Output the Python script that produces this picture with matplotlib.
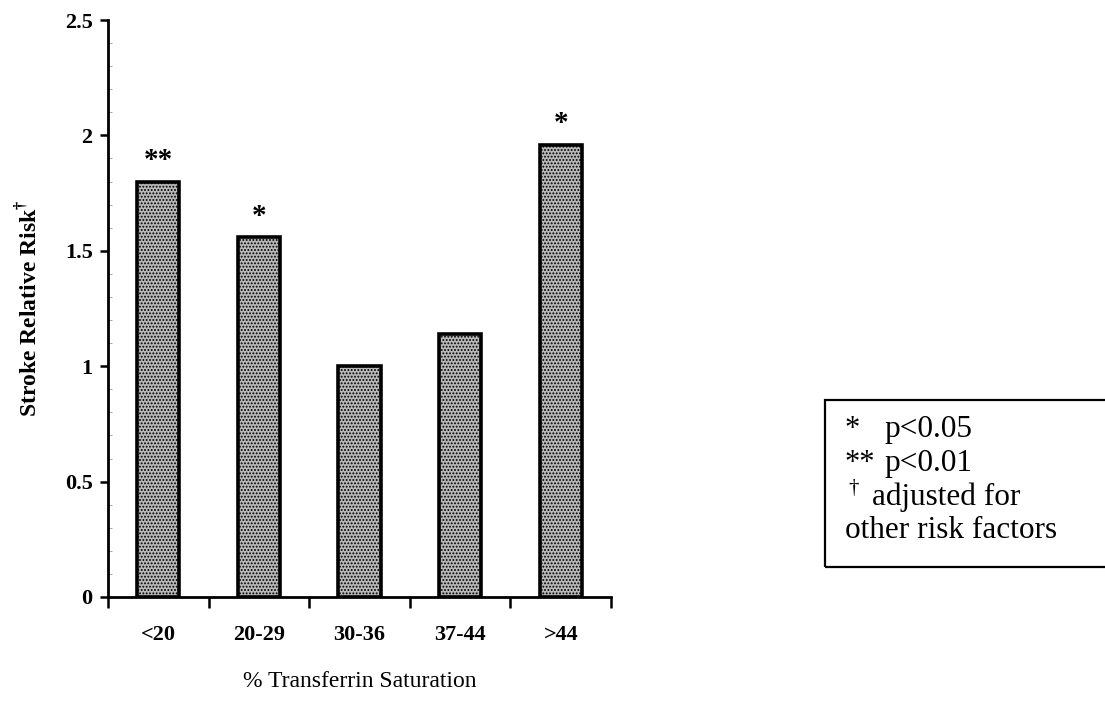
import numpy as np
import matplotlib
matplotlib.use("Agg")
import matplotlib.pyplot as plt
from matplotlib.patches import Rectangle

# data
categories = ["<20", "20-29", "30-36", "37-44", ">44"]
relative_risk = [1.80, 1.56, 1.00, 1.14, 1.96]
significance = ["**", "*", "", "", "*"]
y_ticks = [0, 0.5, 1, 1.5, 2, 2.5]
y_tick_labels = ["0", "0.5", "1", "1.5", "2", "2.5"]
note_symbols = ["*", "**", "\u2020", ""]
note_texts = ["p<0.05", "p<0.01", "adjusted for", "other risk factors"]

plt.rcParams['font.family'] = ['Liberation Serif', 'DejaVu Serif']
plt.rcParams['mathtext.fontset'] = 'custom'
plt.rcParams['mathtext.rm'] = 'Liberation Serif'
plt.rcParams['mathtext.bf'] = 'Liberation Serif:bold'
plt.rcParams['hatch.linewidth'] = 0.9
plt.rcParams['hatch.color'] = '#222222'

fig = plt.figure(figsize=(11.05, 7.02), dpi=100)
ax = fig.add_axes([0.0977, 0.1496, 0.4553, 0.8219])

x = np.arange(len(categories))
ax.bar(x, relative_risk, width=0.42, color='#b8b8b8', edgecolor='black',
       linewidth=2.6, hatch='.....')

for xi, val, sig in zip(x, relative_risk, significance):
    if sig:
        ax.text(xi, val + 0.09, sig, ha='center', va='center',
                fontsize=21, fontweight='bold')

ax.set_xlim(-0.5, len(categories) - 0.5)
ax.set_ylim(0, 2.5)

ax.set_yticks(y_ticks)
ax.set_yticklabels(y_tick_labels, fontsize=16, fontweight='bold')
ax.set_yticks(np.arange(0, 2.51, 0.1), minor=True)
ax.tick_params(axis='y', which='major', direction='out', length=6, width=1.8, pad=5)
ax.tick_params(axis='y', which='minor', direction='in', length=3, width=0.6, color='#999999')

# category boundaries as ticks, labels at centers
ax.set_xticks(np.arange(-0.5, len(categories), 1.0))
ax.set_xticklabels([])
ax.set_xticks(x, minor=True)
ax.set_xticklabels(categories, minor=True, fontsize=16, fontweight='bold')
ax.tick_params(axis='x', which='major', direction='out', length=8, width=1.8)
ax.tick_params(axis='x', which='minor', length=0, pad=20)

for side in ['top', 'right']:
    ax.spines[side].set_visible(False)
for side in ['left', 'bottom']:
    ax.spines[side].set_linewidth(2.0)

ax.set_ylabel("Stroke Relative Risk$^{\\mathbf{\u2020}}$", fontsize=17, fontweight='bold', labelpad=16)
ax.set_xlabel("% Transferrin Saturation", fontsize=17, labelpad=19)

# note box on the right
fig.patches.append(Rectangle((825 / 1105, 1 - 567 / 702), 0.3, 167 / 702,
                             transform=fig.transFigure, fill=False,
                             edgecolor='black', linewidth=1.6))
line_y = [430, 463, 497, 531]
text_x = [884, 884, 872, 845]
for sym, txt, yy, tx in zip(note_symbols, note_texts, line_y, text_x):
    if sym == "\u2020":
        fig.text(848 / 1105, 1 - (yy - 8) / 702, sym, fontsize=15, va='center', ha='left')
    elif sym:
        fig.text(845 / 1105, 1 - yy / 702, sym, fontsize=22, va='center', ha='left')
    fig.text(tx / 1105, 1 - yy / 702, txt, fontsize=22.5, va='center', ha='left')

fig.savefig("out.png", dpi=100)
